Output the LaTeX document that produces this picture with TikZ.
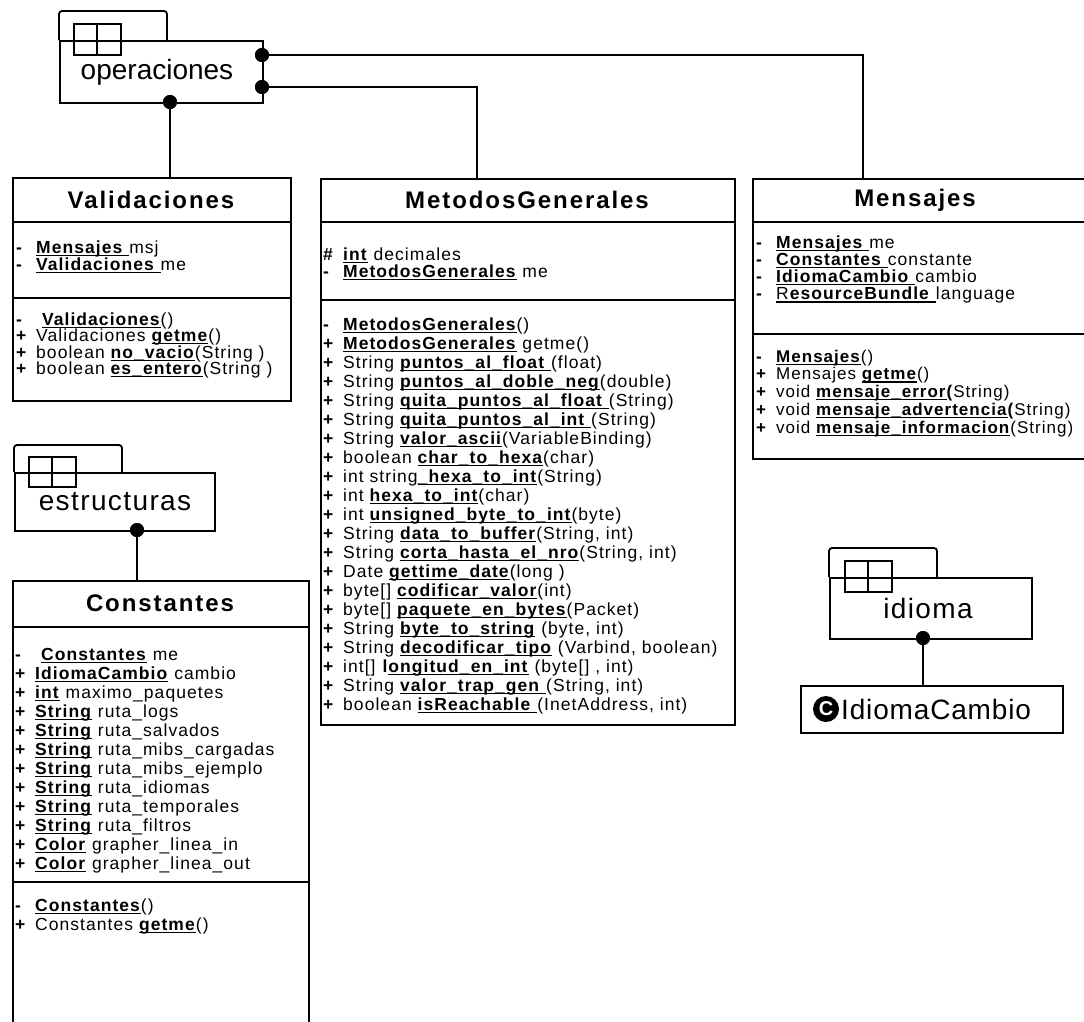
\documentclass[tikz,border=0pt]{standalone}
\usepackage{fontspec}
\setmainfont{Liberation Sans}
\newfontfamily\rowfont[LetterSpace=6]{Liberation Sans}
\newfontfamily\headfont[LetterSpace=8]{Liberation Sans}
\newfontfamily\widepkgfont[LetterSpace=5]{Liberation Sans}
\newfontfamily\icfont[LetterSpace=3]{Liberation Sans}
\usetikzlibrary{calc}
% underline drawn just under the baseline
\newcommand\undl[1]{\setbox0=\hbox{#1}\rlap{\rule[-2.8pt]{\wd0}{1.3pt}}\box0\relax}
\newcommand\ub[1]{\undl{\textbf{#1}}}
\newcommand\mk[1]{\makebox[20pt][l]{\textbf{#1}}}
\tikzset{
  lw/.style={line width=1.8pt},
  classbox/.style={draw, lw, rectangle, anchor=north west, inner sep=0pt},
  headtxt/.style={font=\headfont\bfseries\fontsize{24}{28}\selectfont, inner sep=0pt},
  rowtxt/.style={anchor=base west, inner sep=0pt, font=\rowfont\fontsize{17.5}{20}\selectfont},
  pkgbody/.style={draw, lw, rectangle, anchor=north west, inner sep=0pt, minimum width=203pt, minimum height=62pt},
  pkgtab/.style={lw, rounded corners=3pt},
  pkgtxt/.style={font=\fontsize{28}{32}\selectfont, inner sep=0pt},
  joint/.style={circle, fill, inner sep=0pt, minimum size=14pt},
  link/.style={lw},
}
\begin{document}
\begin{tikzpicture}[x=1pt,y=-1pt]
\useasboundingbox (0,0) rectangle (1084,1021);
\clip (0,0) rectangle (1084,1021);

% ---------- package operaciones ----------
\draw[pkgtab] (59,40) -- (59,11) -- (167,11) -- (167,40);
\node[pkgbody] (ops) at (59,40) {};
\draw[lw] (74,24) rectangle (121,55) (97,24) -- (97,55);
\node[pkgtxt] (ops-l) at (157,72) {operaciones};

% ---------- class Validaciones ----------
\node[classbox, minimum width=278pt, minimum height=223pt] (va) at (12,177) {};
\node[headtxt] (va-h) at (151,200) {Validaciones};
\draw[lw] ($(va.north west)+(0,45)$) -- ($(va.north east)+(0,45)$);
\draw[lw] ($(va.north west)+(0,121)$) -- ($(va.north east)+(0,121)$);
\foreach \t [count=\i] in {
  {\mk{-}\ub{Mensajes\ }msj},
  {\mk{-}\ub{Validaciones\ }me}}
  \node[rowtxt] (va-a\i) at (16,{253+17*(\i-1)}) {\t};
\foreach \t [count=\i] in {
  {\mk{-}\ \ub{Validaciones}()},
  {\mk{+}Validaciones \ub{getme}()},
  {\mk{+}boolean \ub{no\_vacio}(String )},
  {\mk{+}boolean \ub{es\_entero}(String )}}
  \node[rowtxt] (va-m\i) at (16,{325+16.5*(\i-1)}) {\t};

% ---------- class MetodosGenerales ----------
\node[classbox, minimum width=414pt, minimum height=546pt] (mg) at (320,178) {};
\node[headtxt] (mg-h) at (527,200) {MetodosGenerales};
\draw[lw] ($(mg.north west)+(0,44)$) -- ($(mg.north east)+(0,44)$);
\draw[lw] ($(mg.north west)+(0,122)$) -- ($(mg.north east)+(0,122)$);
\foreach \t [count=\i] in {
  {\mk{\#}\ub{int} decimales},
  {\mk{-}\ub{MetodosGenerales} me}}
  \node[rowtxt] (mg-a\i) at (323,{260+17.5*(\i-1)}) {\t};
\foreach \t [count=\i] in {
  {\mk{-}\ub{MetodosGenerales}()},
  {\mk{+}\ub{MetodosGenerales} getme()},
  {\mk{+}String \ub{puntos\_al\_float\ }(float)},
  {\mk{+}String \ub{puntos\_al\_doble\_neg}(double)},
  {\mk{+}String \ub{quita\_puntos\_al\_float\ }(String)},
  {\mk{+}String \ub{quita\_puntos\_al\_int\ }(String)},
  {\mk{+}String \ub{valor\_ascii}(VariableBinding)},
  {\mk{+}boolean \ub{char\_to\_hexa}(char)},
  {\mk{+}int string\ub{\_hexa\_to\_int}(String)},
  {\mk{+}int \ub{hexa\_to\_int}(char)},
  {\mk{+}int \ub{unsigned\_byte\_to\_int}(byte)},
  {\mk{+}String \ub{data\_to\_buffer}(String, int)},
  {\mk{+}String \ub{corta\_hasta\_el\_nro}(String, int)},
  {\mk{+}Date \ub{gettime\_date}(long )},
  {\mk{+}byte[] \ub{codificar\_valor}(int)},
  {\mk{+}byte[] \ub{paquete\_en\_bytes}(Packet)},
  {\mk{+}String \ub{byte\_to\_string} (byte, int)},
  {\mk{+}String \ub{decodificar\_tipo} (Varbind, boolean)},
  {\mk{+}int[] \textbf{l}\ub{ongitud\_en\_int} (byte[] , int)},
  {\mk{+}String \ub{valor\_trap\_gen\ }(String, int)},
  {\mk{+}boolean \ub{isReachable\ }(InetAddress, int)}}
  \node[rowtxt] (mg-m\i) at (323,{330+19*(\i-1)}) {\t};

% ---------- class Mensajes ----------
\node[classbox, minimum width=345pt, minimum height=280pt] (ms) at (752,178) {};
\node[headtxt] (ms-h) at (915,200) {Mensajes};
\draw[lw] ($(ms.north west)+(0,44)$) -- ($(ms.north east)+(0,44)$);
\draw[lw] ($(ms.north west)+(0,156)$) -- ($(ms.north east)+(0,156)$);
\foreach \t [count=\i] in {
  {\mk{-}\ub{Mensajes\ }me},
  {\mk{-}\ub{Constantes\ }constante},
  {\mk{-}\ub{IdiomaCambio\ }cambio},
  {\mk{-}\undl{R\textbf{esourceBundle}\ }language}}
  \node[rowtxt] (ms-a\i) at (756,{248+17.3*(\i-1)}) {\t};
\foreach \t [count=\i] in {
  {\mk{-}\ub{Mensajes}()},
  {\mk{+}Mensajes \ub{getme}()},
  {\mk{+}void \ub{mensaje\_error}\textbf{(}String)},
  {\mk{+}void \ub{mensaje\_advertencia}\textbf{(}String)},
  {\mk{+}void \ub{mensaje\_informacion}(String)}}
  \node[rowtxt, font=\rowfont\fontsize{17}{20}\selectfont] (ms-m\i) at (756,{362+17.8*(\i-1)}) {\t};

% ---------- package estructuras ----------
\draw[pkgtab] (14,472) -- (14,445) -- (122,445) -- (122,472);
\node[pkgbody, minimum width=200pt, minimum height=58pt] (est) at (14,472) {};
\draw[lw] (29,457) rectangle (76,487) (52,457) -- (52,487);
\node[pkgtxt, font=\widepkgfont\fontsize{28}{32}\selectfont] (est-l) at (115,502) {estructuras};

% ---------- class Constantes ----------
\node[classbox, minimum width=296pt, minimum height=480pt] (co) at (12,580) {};
\node[headtxt] (co-h) at (160,603) {Constantes};
\draw[lw] ($(co.north west)+(0,47)$) -- ($(co.north east)+(0,47)$);
\draw[lw] ($(co.north west)+(0,302)$) -- ($(co.north east)+(0,302)$);
\foreach \t [count=\i] in {
  {\mk{-}\ \ub{Constantes} me},
  {\mk{+}\ub{IdiomaCambio} cambio},
  {\mk{+}\ub{int} maximo\_paquetes},
  {\mk{+}\ub{String} ruta\_logs},
  {\mk{+}\ub{String} ruta\_salvados},
  {\mk{+}\ub{String} ruta\_mibs\_cargadas},
  {\mk{+}\ub{String} ruta\_mibs\_ejemplo},
  {\mk{+}\ub{String} ruta\_idiomas},
  {\mk{+}\ub{String} ruta\_temporales},
  {\mk{+}\ub{String} ruta\_filtros},
  {\mk{+}\ub{Color} grapher\_linea\_in},
  {\mk{+}\ub{Color} grapher\_linea\_out}}
  \node[rowtxt] (co-a\i) at (15,{660+19*(\i-1)}) {\t};
\foreach \t [count=\i] in {
  {\mk{-}\ub{Constantes}()},
  {\mk{+}Constantes \ub{getme}()}}
  \node[rowtxt] (co-m\i) at (15,{911+19*(\i-1)}) {\t};

% ---------- package idioma ----------
\draw[pkgtab] (829,577) -- (829,548) -- (937,548) -- (937,577);
\node[pkgbody, minimum width=202pt, minimum height=61pt] (idi) at (829,577) {};
\draw[lw] (845,561) rectangle (892,592) (868,561) -- (868,592);
\node[pkgtxt, font=\widepkgfont\fontsize{28}{32}\selectfont] (idi-l) at (928,608) {idioma};

% ---------- class IdiomaCambio ----------
\node[classbox, minimum width=262pt, minimum height=47pt] (ic) at (800,685) {};
\node[circle, fill, inner sep=0pt, minimum size=26pt, font=\bfseries\fontsize{20}{20}\selectfont, text=white] (ic-c) at (826,709) {C};
\node[anchor=west, inner sep=0pt, font=\icfont\fontsize{28}{30}\selectfont] (ic-t) at (841,709) {IdiomaCambio};

% ---------- connectors ----------
\node[joint] (j1) at (262,55) {};
\node[joint] (j2) at (262,87) {};
\node[joint] (j3) at (170,102) {};
\node[joint] (j4) at (137,530) {};
\node[joint] (j5) at (923,638) {};
\draw[link] (j1.center) -| ([xshift=111pt]ms.north west);
\draw[link] (j2.center) -| ([xshift=157pt]mg.north west);
\draw[link] (j3.center) -- ([xshift=158pt]va.north west);
\draw[link] (j4.center) -- ([xshift=125pt]co.north west);
\draw[link] (j5.center) -- ([xshift=123pt]ic.north west);
\foreach \j in {j1,j2,j3,j4,j5} \fill (\j) circle (7pt);
\end{tikzpicture}
\end{document}
